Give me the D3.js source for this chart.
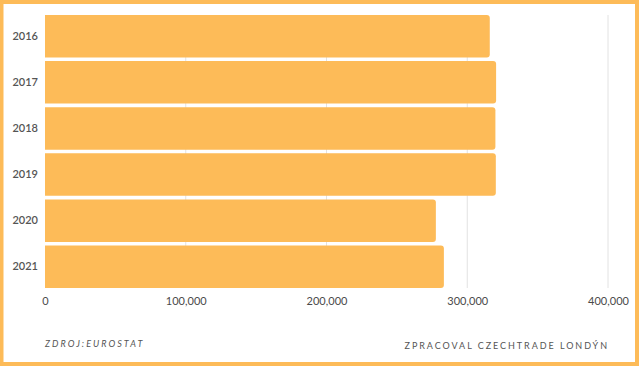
<!DOCTYPE html>
<html>
<head>
<meta charset="utf-8">
<script src="https://cdn.jsdelivr.net/npm/d3@7"></script>
<style>
  html, body { margin: 0; padding: 0; background: #fff; }
  #chart { width: 640px; height: 367px; }
  .tick text { font-family: Lato, sans-serif; fill: #444; }
</style>
</head>
<body>
<div id="chart"></div>
<script>
var years = ["2016", "2017", "2018", "2019", "2020", "2021"];
var values = [316000, 320500, 320000, 320300, 277700, 283400];
var xTicks = [0, 100000, 200000, 300000, 400000];

var W = 640, H = 367;
var margin = { top: 15, right: 32, bottom: 79, left: 45 };
var width = W - margin.left - margin.right,
    height = H - margin.top - margin.bottom;

var svg = d3.select("#chart").append("svg")
    .attr("width", W)
    .attr("height", H);

// orange frame
svg.append("rect")
    .attr("x", 1.5).attr("y", 2)
    .attr("width", W - 4.5).attr("height", H - 5)
    .attr("fill", "none")
    .attr("stroke", "#fdbb58")
    .attr("stroke-width", 4);

var g = svg.append("g")
    .attr("transform", "translate(" + margin.left + "," + margin.top + ")");

var x = d3.scaleLinear().domain([0, 400000]).range([0, width]);
var y = d3.scaleBand().domain(years).range([0, height]).paddingInner(0.08).paddingOuter(0);

// grid
g.selectAll(".grid")
    .data(xTicks.slice(1))
    .enter().append("line")
    .attr("class", "grid")
    .attr("x1", function (d) { return x(d); })
    .attr("x2", function (d) { return x(d); })
    .attr("y1", 0)
    .attr("y2", height)
    .attr("stroke", "#e2e2e2")
    .attr("stroke-width", 1);

// bars, square on the left, rounded on the right
var r = 3;
g.selectAll(".bar")
    .data(years)
    .enter().append("path")
    .attr("class", "bar")
    .attr("fill", "#fdbb58")
    .attr("d", function (d, i) {
        var x0 = x(0), x1 = x(values[i]), y0 = y(d), h = y.bandwidth();
        return "M" + x0 + "," + y0 +
            "H" + (x1 - r) +
            "Q" + x1 + "," + y0 + " " + x1 + "," + (y0 + r) +
            "V" + (y0 + h - r) +
            "Q" + x1 + "," + (y0 + h) + " " + (x1 - r) + "," + (y0 + h) +
            "H" + x0 + "Z";
    });

var xAxis = g.append("g")
    .attr("transform", "translate(0," + height + ")")
    .call(d3.axisBottom(x).tickValues(xTicks).tickFormat(d3.format(",")).tickSize(0).tickPadding(9));
xAxis.select(".domain").remove();
xAxis.selectAll("text").style("font-size", "11px").style("fill", "#4a4a4a");

var yAxis = g.append("g")
    .call(d3.axisLeft(y).tickSize(0).tickPadding(7));
yAxis.select(".domain").remove();
yAxis.selectAll("text").style("font-size", "11px").style("font-weight", "600").style("fill", "#555");

// footer
svg.append("text")
    .attr("x", 45).attr("y", 347)
    .attr("font-family", "Lato, sans-serif")
    .attr("font-size", 9)
    .attr("font-style", "italic")
    .attr("letter-spacing", 2.05)
    .attr("fill", "#555")
    .text("ZDROJ:EUROSTAT");

svg.append("text")
    .attr("x", 609).attr("y", 349)
    .attr("text-anchor", "end")
    .attr("font-family", "Lato, sans-serif")
    .attr("font-size", 9)
    .attr("letter-spacing", 1.95)
    .attr("fill", "#555")
    .text("ZPRACOVAL CZECHTRADE LONDÝN");
</script>
</body>
</html>
